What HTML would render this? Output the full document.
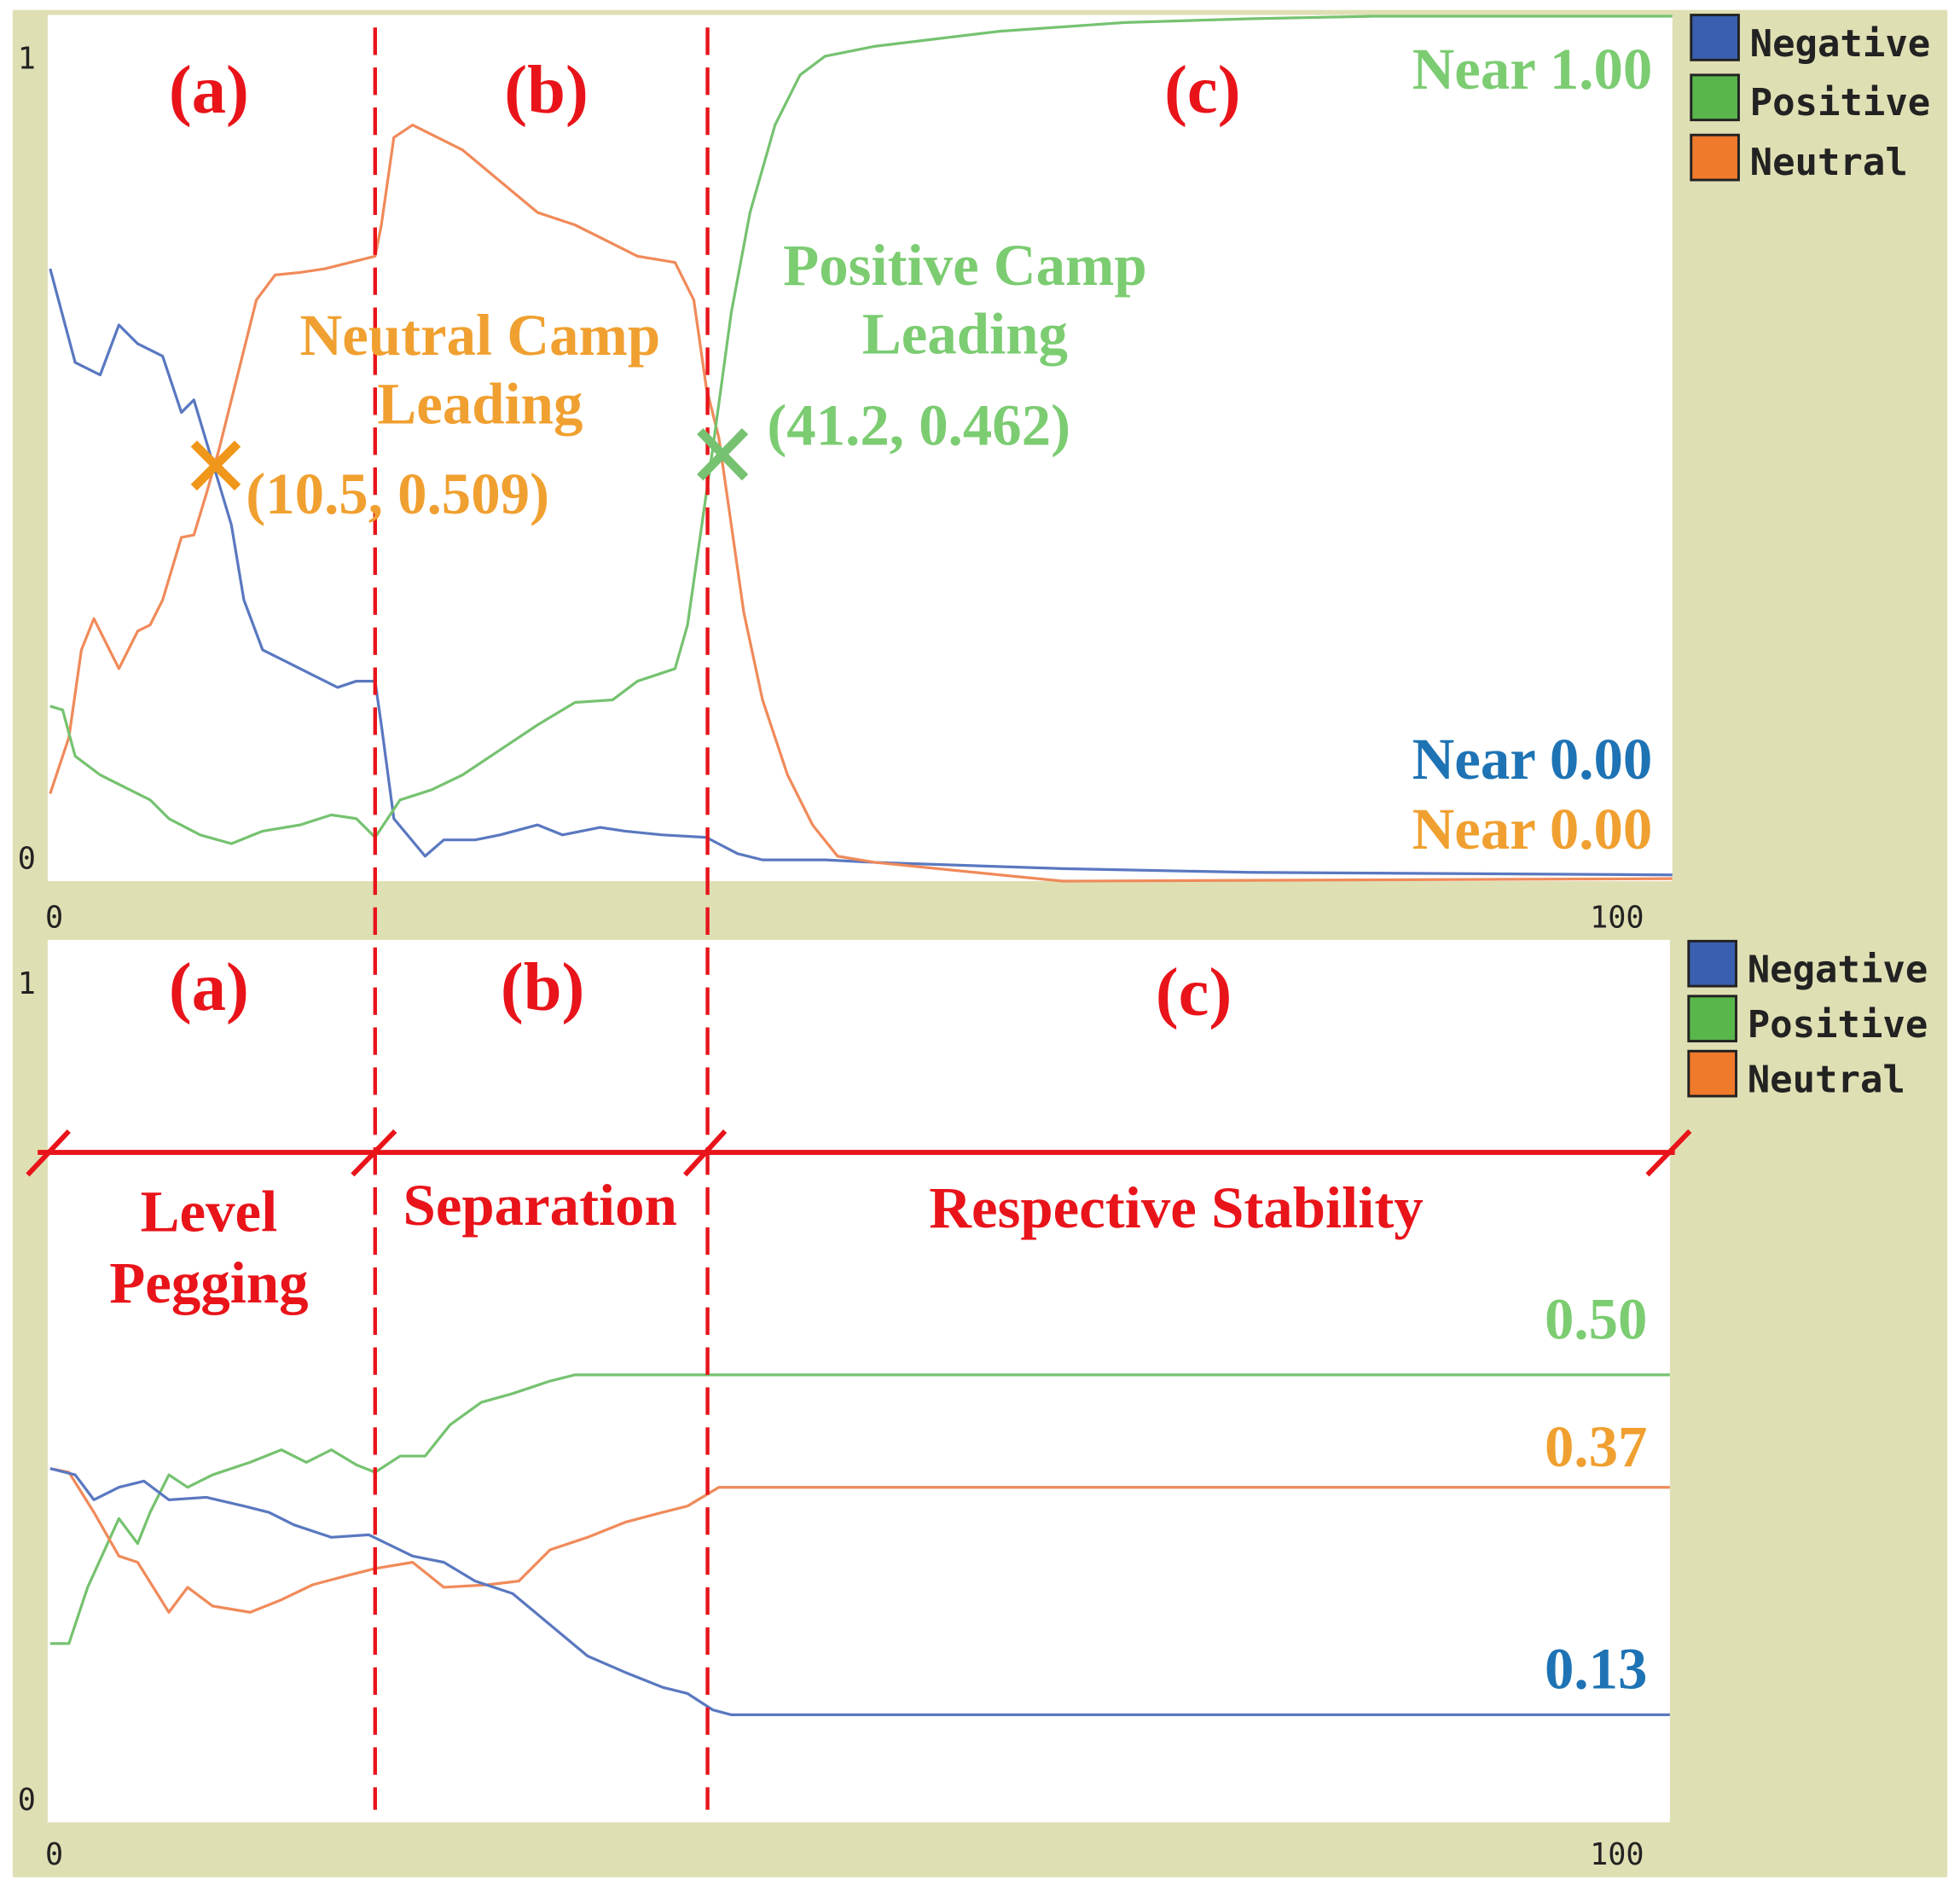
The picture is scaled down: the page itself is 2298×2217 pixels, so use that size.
<!DOCTYPE html>
<html><head><style>html,body{margin:0;padding:0;background:#fff}svg{display:block}</style></head>
<body>
<svg width="2298" height="2217" viewBox="0 0 1568 1513" xmlns="http://www.w3.org/2000/svg" font-family="Liberation Serif, serif" font-weight="bold">
<rect x="0" y="0" width="1568" height="1513" fill="#fff"/>
<rect x="10" y="8" width="1548" height="1494" fill="#dfdfb4"/>
<rect x="38" y="12" width="1300" height="693" fill="#fff"/>
<rect x="38" y="752" width="1298" height="706" fill="#fff"/>
<g font-family="DejaVu Sans Mono, monospace" font-weight="normal" font-size="24" fill="#222">
<text x="14" y="55">1</text><text x="14" y="695">0</text>
<text x="36" y="742">0</text><text x="1272" y="742">100</text>
<text x="14" y="795">1</text><text x="14" y="1448">0</text>
<text x="36" y="1492">0</text><text x="1272" y="1492">100</text>
</g>
<g font-family="DejaVu Sans Mono, monospace" font-weight="bold" font-size="30" fill="#222">
<rect x="1353" y="12" width="38" height="36" fill="#3a5fb0" stroke="#222" stroke-width="2"/><text x="1400" y="45">Negative</text>
<rect x="1353" y="60" width="38" height="36" fill="#59b64a" stroke="#222" stroke-width="2"/><text x="1400" y="92">Positive</text>
<rect x="1353" y="108" width="38" height="36" fill="#ef7a2c" stroke="#222" stroke-width="2"/><text x="1400" y="140">Neutral</text>
<rect x="1351" y="753" width="38" height="36" fill="#3a5fb0" stroke="#222" stroke-width="2"/><text x="1398" y="786">Negative</text>
<rect x="1351" y="797" width="38" height="36" fill="#59b64a" stroke="#222" stroke-width="2"/><text x="1398" y="830">Positive</text>
<rect x="1351" y="841" width="38" height="36" fill="#ef7a2c" stroke="#222" stroke-width="2"/><text x="1398" y="874">Neutral</text>
</g>
<g fill="none" stroke-width="2.2" stroke-linejoin="round">
<polyline stroke="#5a78c0" points="40,215 60,290 80,300 95,260 110,275 130,285 145,330 155,320 170,370 185,420 195,480 210,520 230,530 250,540 270,550 285,545 300,545 305,580 315,655 340,685 355,672 380,672 400,668 430,660 450,668 480,662 500,665 530,668 565,670 590,683 610,688 660,688 700,690 850,695 1000,698 1338,700"/>
<polyline stroke="#f08a5a" points="40,635 55,590 65,520 75,495 85,515 95,535 110,505 120,500 130,480 145,430 155,428 165,395 175,360 190,300 205,240 220,220 240,218 260,215 280,210 300,205 305,180 315,110 330,100 350,110 370,120 400,145 430,170 460,180 490,195 510,205 540,210 555,240 565,310 575,350 585,420 595,490 610,560 630,620 650,660 670,685 700,690 800,700 850,705 1338,703"/>
<polyline stroke="#76c270" points="40,565 50,568 60,605 80,620 100,630 120,640 135,655 160,668 185,675 210,665 240,660 265,652 285,655 300,670 320,640 345,632 370,620 400,600 430,580 460,562 490,560 510,545 540,535 550,500 560,430 570,360 585,250 600,170 620,100 640,60 660,45 700,37 800,25 900,18 1000,15 1100,13 1338,13"/>
<polyline stroke="#76c270" points="40,1315 55,1315 70,1270 95,1215 110,1235 120,1210 135,1180 150,1190 170,1180 200,1170 225,1160 245,1170 265,1160 285,1172 300,1178 320,1165 340,1165 360,1140 385,1122 410,1115 440,1105 460,1100 1336,1100"/>
<polyline stroke="#f08a5a" points="40,1175 55,1178 75,1210 95,1245 110,1250 135,1290 150,1270 170,1285 200,1290 225,1280 250,1268 280,1260 300,1255 330,1250 355,1270 390,1268 415,1265 440,1240 470,1230 500,1218 530,1210 550,1205 575,1190 1336,1190"/>
<polyline stroke="#5a78c0" points="40,1175 60,1180 75,1200 95,1190 115,1185 135,1200 165,1198 195,1205 215,1210 235,1220 265,1230 295,1228 330,1245 355,1250 380,1265 410,1275 440,1300 470,1325 500,1338 530,1350 550,1355 570,1368 585,1372 1336,1372"/>
</g>
<g stroke="#e8141a" stroke-width="3" stroke-dasharray="22,10">
<line x1="300" y1="22" x2="300" y2="1448"/><line x1="566" y1="22" x2="566" y2="1448"/>
</g>
<g stroke="#e8141a" stroke-width="4">
<line x1="30" y1="922" x2="1340" y2="922"/>
<line x1="22" y1="940" x2="55" y2="905"/><line x1="282" y1="940" x2="316" y2="905"/>
<line x1="548" y1="940" x2="580" y2="905"/><line x1="1318" y1="940" x2="1352" y2="905"/>
</g>
<g stroke-width="7">
<line x1="155" y1="355" x2="190" y2="390" stroke="#f0961a"/><line x1="190" y1="355" x2="155" y2="390" stroke="#f0961a"/>
<line x1="560" y1="345" x2="596" y2="382" stroke="#76c270"/><line x1="596" y1="345" x2="560" y2="382" stroke="#76c270"/>
</g>
<g fill="#e8141a" font-size="55" text-anchor="middle">
<text x="167" y="90">(a)</text><text x="437" y="90">(b)</text><text x="962" y="90">(c)</text>
<text x="167" y="808">(a)</text><text x="434" y="808">(b)</text><text x="955" y="812">(c)</text>
<g font-size="47"><text x="167" y="985">Level</text><text x="167" y="1042">Pegging</text>
<text x="432" y="980">Separation</text><text x="941" y="982">Respective Stability</text></g>
</g>
<g font-size="47" fill="#f0a030" text-anchor="middle">
<text x="384" y="284">Neutral Camp</text><text x="384" y="339">Leading</text>
<text x="318" y="411">(10.5, 0.509)</text>
</g>
<g font-size="47" fill="#7ccc72" text-anchor="middle">
<text x="772" y="228">Positive Camp</text><text x="772" y="283">Leading</text>
<text x="735" y="356">(41.2, 0.462)</text>
</g>
<g font-size="47" text-anchor="end">
<text x="1322" y="71" fill="#7ccc72">Near 1.00</text>
<text x="1322" y="623" fill="#1e73b4">Near 0.00</text>
<text x="1322" y="679" fill="#f0a030">Near 0.00</text>
<text x="1318" y="1071" fill="#7ccc72">0.50</text>
<text x="1318" y="1173" fill="#f0a030">0.37</text>
<text x="1318" y="1351" fill="#1e73b4">0.13</text>
</g>
</svg>
</body></html>
